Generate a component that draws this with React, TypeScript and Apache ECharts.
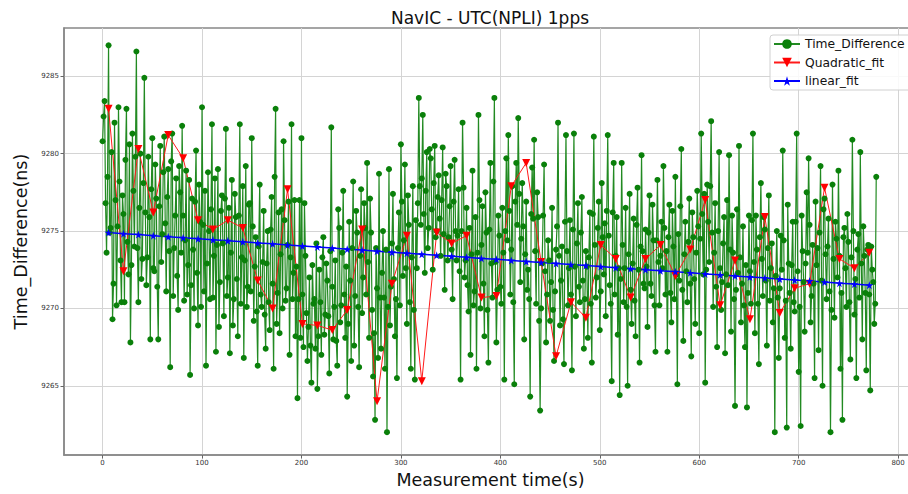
import React, { useEffect, useRef } from "react";
import * as echarts from "echarts";

// Time difference samples at even seconds (t = 0, 2, 4, ... 778)
const evenSamples: number[] = [
  9280.8, 9283.4, 9273.6, 9287.0, 9275.2, 9269.3, 9282.0, 9270.2, 9283.0, 9273.1, 9277.3, 9270.4, 9282.9, 9272.2, 9267.8, 9281.3, 9274.0, 9286.6, 9270.4, 9280.0,
  9273.2, 9284.9, 9271.5, 9279.8, 9268.0, 9281.0, 9272.4, 9277.1, 9268.0, 9280.5, 9274.8, 9281.1, 9271.1, 9279.0, 9266.2, 9281.3, 9273.9, 9278.4, 9269.9, 9277.5,
  9281.8, 9270.5, 9278.9, 9272.8, 9265.7, 9277.1, 9270.0, 9280.2, 9268.9, 9275.6, 9283.0, 9271.1, 9266.3, 9278.8, 9270.6, 9281.9, 9273.4, 9267.2, 9279.0, 9271.7,
  9277.3, 9269.5, 9281.6, 9272.0, 9267.1, 9278.3, 9270.6, 9275.9, 9268.2, 9281.9, 9273.3, 9266.8, 9279.2, 9271.4, 9276.8, 9281.0, 9269.2, 9274.6, 9266.3, 9278.0,
  9270.1, 9276.3, 9267.4, 9275.0, 9268.6, 9277.2, 9266.1, 9282.9, 9271.0, 9268.4, 9276.4, 9280.8, 9270.5, 9274.1, 9267.0, 9281.9, 9272.3, 9268.2, 9264.2, 9277.0,
  9281.0, 9267.5, 9273.4, 9266.6, 9272.0, 9265.2, 9270.3, 9267.4, 9264.8, 9272.5, 9267.0, 9274.6, 9269.6, 9271.8, 9265.8, 9281.7, 9268.0, 9273.1, 9266.3, 9275.2,
  9270.2, 9277.6, 9268.1, 9264.3, 9275.6, 9266.6, 9278.2, 9270.8, 9274.9, 9266.2, 9277.7, 9272.0, 9275.2, 9279.4, 9268.1, 9274.9, 9265.6, 9262.8, 9271.3, 9278.7,
  9267.4, 9275.0, 9266.1, 9262.0, 9279.0, 9271.4, 9277.4, 9268.2, 9265.5, 9276.2, 9280.6, 9272.1, 9279.3, 9269.0, 9275.4, 9266.1, 9277.9, 9265.4, 9272.6, 9283.6,
  9275.4, 9282.5, 9272.3, 9280.1, 9275.2, 9279.7, 9272.5, 9280.5, 9275.0, 9278.6, 9273.4, 9280.4, 9271.2, 9277.9, 9274.6, 9279.2, 9270.6, 9279.6, 9273.1, 9277.7,
  9265.4, 9282.0, 9272.0, 9276.5, 9269.8, 9267.0, 9278.9, 9271.1, 9266.1, 9282.5, 9270.0, 9276.6, 9268.2, 9274.9, 9266.5, 9279.4, 9270.7, 9283.6, 9267.8, 9276.0,
  9271.4, 9276.5, 9265.4, 9279.7, 9281.2, 9270.9, 9277.9, 9265.1, 9279.4, 9282.3, 9271.7, 9278.1, 9268.0, 9276.9, 9272.5, 9264.3, 9279.1, 9280.9, 9270.3, 9275.9,
  9263.4, 9272.9, 9279.3, 9267.8, 9274.4, 9269.2, 9276.5, 9266.6, 9273.8, 9282.0, 9268.9, 9274.0, 9266.4, 9281.2, 9270.2, 9275.7, 9266.0, 9281.3, 9269.5, 9276.8,
  9270.4, 9277.2, 9267.4, 9273.7, 9268.1, 9276.2, 9266.5, 9281.1, 9270.7, 9275.2, 9268.6, 9278.1, 9272.2, 9269.5, 9281.2, 9271.5, 9265.3, 9279.4, 9273.4, 9268.3,
  9264.4, 9279.4, 9270.4, 9276.5, 9265.0, 9277.4, 9269.0, 9275.8, 9268.2, 9277.8, 9266.5, 9279.9, 9271.6, 9275.1, 9268.8, 9277.3, 9270.8, 9274.4, 9267.2, 9278.3,
  9270.2, 9275.6, 9279.2, 9270.9, 9267.2, 9276.7, 9269.1, 9274.0, 9278.5, 9265.1, 9271.8, 9280.3, 9267.9, 9275.6, 9270.4, 9277.1, 9266.9, 9274.6, 9269.0, 9277.6,
  9268.4, 9281.3, 9272.2, 9265.2, 9278.0, 9273.0, 9282.1, 9270.1, 9276.8, 9267.5, 9280.1, 9269.9, 9274.2, 9267.1, 9277.0, 9279.9, 9268.5, 9273.6, 9263.7, 9276.4,
  9280.5, 9269.1, 9275.3, 9267.5, 9263.6, 9276.0, 9270.3, 9281.3, 9268.4, 9273.8, 9266.4, 9278.1, 9270.8, 9275.1, 9267.6, 9277.3, 9272.6, 9269.1, 9262.0, 9275.0,
  9266.8, 9274.7, 9280.2, 9268.1, 9262.3, 9272.9, 9267.4, 9275.6, 9269.8, 9281.3, 9265.9, 9262.4, 9273.7, 9268.5, 9277.5, 9279.7, 9269.1, 9274.1, 9265.5, 9272.8,
  9267.3, 9279.2, 9265.0, 9277.1, 9270.6, 9275.8, 9262.0, 9278.0, 9269.4, 9274.5, 9278.9, 9266.1, 9262.8, 9275.2, 9270.1, 9274.3, 9266.7, 9280.9, 9269.6, 9265.5,
  9274.8, 9280.1, 9268.0, 9273.4, 9266.0, 9274.1, 9264.7, 9272.5, 9269.0, 9278.5,
];

// Time difference samples at odd seconds (t = 1, 3, 5, ... 777)
const oddSamples: number[] = [
  9282.4, 9276.8, 9278.5, 9274.9, 9280.1, 9271.6, 9277.0, 9275.3, 9278.2, 9270.4, 9276.1, 9279.6, 9274.3, 9280.6, 9272.8, 9277.6, 9279.8, 9273.9, 9276.5, 9271.9,
  9278.1, 9276.2, 9273.3, 9275.9, 9277.7, 9272.6, 9279.3, 9271.4, 9276.6, 9273.0, 9278.8, 9275.5, 9277.2, 9273.7, 9279.5, 9270.8, 9276.0, 9272.1, 9279.2, 9273.6,
  9276.0, 9274.4, 9270.9, 9278.3, 9271.5, 9273.8, 9276.9, 9272.3, 9278.0, 9270.1, 9275.4, 9277.6, 9272.9, 9275.0, 9276.4, 9270.7, 9278.4, 9274.1, 9268.8, 9276.3,
  9274.2, 9277.1, 9270.8, 9276.5, 9273.6, 9268.9, 9277.4, 9271.9, 9276.0, 9270.3, 9277.9, 9273.1, 9270.1, 9276.7, 9271.1, 9275.3, 9272.7, 9269.8, 9274.0, 9270.9,
  9273.0, 9269.6, 9272.9, 9270.4, 9275.1, 9271.6, 9278.5, 9269.0, 9276.2, 9273.5, 9270.0, 9275.7, 9271.3, 9276.9, 9273.3, 9270.6, 9277.0, 9272.7, 9270.6, 9268.1,
  9270.9, 9276.8, 9269.7, 9268.8, 9267.6, 9272.8, 9270.6, 9274.2, 9268.2, 9270.4, 9273.3, 9268.3, 9272.9, 9269.5, 9273.7, 9271.4, 9270.1, 9267.9, 9276.4, 9269.1,
  9273.6, 9270.9, 9272.7, 9269.0, 9271.8, 9273.9, 9267.6, 9276.3, 9270.1, 9273.4, 9269.7, 9276.8, 9270.9, 9273.0, 9277.1, 9269.9, 9268.4, 9273.9, 9266.8, 9270.7,
  9272.3, 9270.7, 9273.8, 9270.1, 9268.9, 9274.2, 9271.9, 9270.6, 9273.9, 9270.2, 9276.9, 9274.4, 9272.6, 9277.3, 9270.4, 9273.3, 9269.9, 9275.7, 9276.8, 9277.9,
  9278.4, 9276.1, 9277.6, 9273.9, 9280.3, 9276.4, 9278.1, 9274.6, 9277.2, 9275.8, 9277.0, 9274.8, 9278.7, 9273.1, 9276.6, 9273.8, 9276.9, 9275.0, 9274.7, 9272.4,
  9275.0, 9277.8, 9273.1, 9271.5, 9275.2, 9273.5, 9270.2, 9275.9, 9273.6, 9277.0, 9274.1, 9271.6, 9277.5, 9269.9, 9275.1, 9272.9, 9278.2, 9273.0, 9271.2, 9274.7,
  9270.3, 9273.6, 9275.0, 9274.4, 9276.3, 9273.8, 9270.4, 9276.9, 9275.4, 9277.4, 9274.5, 9275.3, 9273.5, 9271.2, 9270.6, 9276.1, 9275.8, 9273.7, 9277.5, 9269.2,
  9270.0, 9276.0, 9272.4, 9270.9, 9273.1, 9271.7, 9269.9, 9271.1, 9275.3, 9273.4, 9271.8, 9269.3, 9275.6, 9273.7, 9272.6, 9270.9, 9275.1, 9272.7, 9274.2, 9271.4,
  9274.9, 9271.8, 9270.6, 9272.7, 9273.3, 9270.3, 9276.1, 9274.1, 9272.0, 9276.9, 9271.1, 9274.6, 9275.5, 9276.3, 9274.7, 9270.3, 9276.2, 9270.9, 9275.9, 9272.6,
  9271.9, 9274.1, 9272.6, 9270.1, 9273.5, 9271.2, 9272.9, 9270.5, 9275.4, 9272.5, 9274.0, 9273.7, 9271.3, 9272.7, 9274.9, 9271.6, 9276.7, 9270.2, 9274.4, 9273.0,
  9273.4, 9272.6, 9275.2, 9273.7, 9274.6, 9271.0, 9276.3, 9270.6, 9272.2, 9274.8, 9276.6, 9271.2, 9273.5, 9272.4, 9274.3, 9271.6, 9276.2, 9271.9, 9273.6, 9275.3,
  9274.5, 9276.1, 9277.4, 9272.5, 9275.6, 9277.9, 9274.9, 9273.6, 9271.4, 9275.0, 9272.6, 9271.7, 9275.9, 9272.2, 9271.5, 9273.8, 9276.0, 9270.6, 9271.2, 9272.3,
  9273.3, 9271.6, 9270.2, 9272.8, 9271.0, 9272.4, 9275.7, 9273.0, 9276.0, 9270.3, 9274.6, 9273.2, 9275.9, 9271.8, 9273.9, 9270.5, 9274.2, 9271.3, 9272.1, 9270.7,
  9271.3, 9272.5, 9274.4, 9270.5, 9276.7, 9271.0, 9272.8, 9270.4, 9275.6, 9272.4, 9270.1, 9276.0, 9271.7, 9272.9, 9273.6, 9275.4, 9270.8, 9271.6, 9276.9, 9273.9,
  9274.9, 9271.8, 9276.4, 9273.5, 9274.0, 9271.1, 9269.9, 9273.2, 9275.6, 9272.0, 9273.4, 9271.0, 9274.6, 9272.6, 9276.1, 9270.4, 9273.3, 9275.0, 9271.9, 9273.8,
  9270.7, 9272.9, 9275.3, 9271.0, 9273.8, 9270.9, 9274.0, 9271.7, 9270.3,
];

// Fit samples, one every 15 s starting at t = 6
const fitStart = 6;
const fitStep = 15;
const quadraticFit: number[] = [
  9282.9, 9272.4, 9280.3, 9276.2, 9281.2, 9279.7, 9275.7, 9275.1, 9275.7, 9275.2,
  9271.8, 9270.0, 9277.7, 9269.0, 9268.9, 9268.6, 9269.9, 9275.1, 9264.0, 9271.6,
  9274.7, 9265.3, 9274.9, 9274.2, 9274.7, 9270.7, 9270.8, 9277.9, 9279.4, 9273.0,
  9266.9, 9270.4, 9269.4, 9274.1, 9273.2, 9270.7, 9273.2, 9274.1, 9272.1, 9273.8,
  9277.0, 9270.2, 9273.1, 9269.3, 9275.9, 9269.7, 9271.3, 9271.6, 9277.8, 9273.2,
  9272.6, 9273.6,
];
const linearFit: number[] = [
  9274.90, 9274.83, 9274.77, 9274.70, 9274.63, 9274.57, 9274.50, 9274.43, 9274.37, 9274.30,
  9274.23, 9274.17, 9274.10, 9274.03, 9273.97, 9273.90, 9273.83, 9273.77, 9273.70, 9273.63,
  9273.57, 9273.50, 9273.43, 9273.37, 9273.30, 9273.23, 9273.17, 9273.10, 9273.03, 9272.97,
  9272.90, 9272.83, 9272.77, 9272.70, 9272.63, 9272.57, 9272.50, 9272.43, 9272.37, 9272.30,
  9272.23, 9272.17, 9272.10, 9272.03, 9271.97, 9271.90, 9271.83, 9271.77, 9271.70, 9271.63,
  9271.57, 9271.50,
];

const xTicks = [0, 100, 200, 300, 400, 500, 600, 700, 800];
const yTicks = [9265, 9270, 9275, 9280, 9285];

const seriesNames = ["Time_Difference", "Quadratic_fit", "linear_fit"];
const titleText = "NavIC - UTC(NPLI) 1pps";
const xName = "Measurement time(s)";
const yName = "Time_Difference(ns)";

const STAR =
  "path://M50,0 L61,35 L98,35 L68,57 L79,91 L50,70 L21,91 L32,57 L2,35 L39,35 Z";
const FONT = "DejaVu Sans";

export default function App() {
  const ref = useRef<HTMLDivElement>(null);

  useEffect(() => {
    if (!ref.current) return;
    const chart = echarts.init(ref.current, undefined, { renderer: "svg" });

    const tdData: number[][] = [];
    for (let i = 0; i < evenSamples.length; i++) {
      tdData.push([i * 2, evenSamples[i]]);
      if (i < oddSamples.length) tdData.push([i * 2 + 1, oddSamples[i]]);
    }
    const qData = quadraticFit.map((v, i) => [fitStart + i * fitStep, v]);
    const lData = linearFit.map((v, i) => [fitStart + i * fitStep, v]);

    chart.setOption({
      animation: false,
      backgroundColor: "#ffffff",
      textStyle: { fontFamily: FONT },
      title: {
        text: titleText,
        left: 485,
        top: 4,
        textAlign: "center",
        textStyle: { fontFamily: FONT, fontSize: 17, fontWeight: "normal", color: "#111" },
      },
      legend: {
        orient: "vertical",
        left: 770,
        top: 35,
        data: seriesNames,
        itemWidth: 26,
        itemHeight: 12,
        itemGap: 6.5,
        padding: [3, 8, 3, 3],
        backgroundColor: "rgba(255,255,255,0.85)",
        borderColor: "#d0d0d0",
        borderWidth: 1,
        borderRadius: 3,
        textStyle: { fontFamily: FONT, fontSize: 12.3, color: "#111" },
      },
      grid: {
        left: 64,
        right: 3,
        top: 28,
        bottom: 35,
        show: true,
        borderColor: "#888",
        borderWidth: 1.5,
        backgroundColor: "transparent",
      },
      xAxis: {
        type: "value",
        min: -38.8,
        max: 819,
        minInterval: 100,
        maxInterval: 100,
        name: xName,
        nameLocation: "middle",
        nameGap: 15,
        nameTextStyle: { fontFamily: FONT, fontSize: 17.5, color: "#111" },
        axisLine: { show: true, onZero: false, lineStyle: { color: "#888", width: 1.5 } },
        axisTick: { show: true, length: 3.5, inside: false, lineStyle: { color: "#666" }, customValues: xTicks },
        axisLabel: {
          fontFamily: FONT,
          fontSize: 7,
          color: "#333",
          margin: 4,
          customValues: xTicks,
          formatter: (v: number) => (xTicks.includes(v) ? String(v) : ""),
        },
        splitLine: { show: true, lineStyle: { color: "#d4d4d4", width: 1 } },
      },
      yAxis: {
        type: "value",
        min: 9260.52,
        max: 9288.12,
        minInterval: 5,
        maxInterval: 5,
        name: yName,
        nameLocation: "middle",
        nameGap: 32,
        nameTextStyle: { fontFamily: FONT, fontSize: 17.5, color: "#111" },
        axisLine: { show: true, onZero: false, lineStyle: { color: "#888", width: 1.5 } },
        axisTick: { show: true, length: 3.5, inside: false, lineStyle: { color: "#666" }, customValues: yTicks },
        axisLabel: {
          fontFamily: FONT,
          fontSize: 7,
          color: "#333",
          margin: 5,
          customValues: yTicks,
          formatter: (v: number) => (yTicks.includes(v) ? String(v) : ""),
        },
        splitLine: { show: true, lineStyle: { color: "#d4d4d4", width: 1 } },
      },
      series: [
        {
          name: seriesNames[0],
          type: "line",
          data: tdData,
          symbol: "circle",
          symbolSize: 6,
          showAllSymbol: true,
          itemStyle: { color: "#0a800a" },
          lineStyle: { color: "#228a22", width: 1.2 },
          emphasis: { disabled: true },
        },
        {
          name: seriesNames[1],
          type: "line",
          data: qData,
          symbol: "triangle",
          symbolRotate: 180,
          symbolSize: 8,
          showAllSymbol: true,
          itemStyle: { color: "#ff0000" },
          lineStyle: { color: "#ff1a1a", width: 1 },
          emphasis: { disabled: true },
        },
        {
          name: seriesNames[2],
          type: "line",
          data: lData,
          symbol: STAR,
          symbolSize: 8,
          showAllSymbol: true,
          itemStyle: { color: "#0000ff" },
          lineStyle: { color: "#0000ff", width: 1.5 },
          emphasis: { disabled: true },
        },
      ],
    });

    return () => chart.dispose();
  }, []);

  return (
    <div style={{ position: "absolute", left: 0, top: 0, width: 908, height: 494, overflow: "hidden", background: "#fff" }}>
      <div ref={ref} style={{ width: 920, height: 494 }} />
    </div>
  );
}
